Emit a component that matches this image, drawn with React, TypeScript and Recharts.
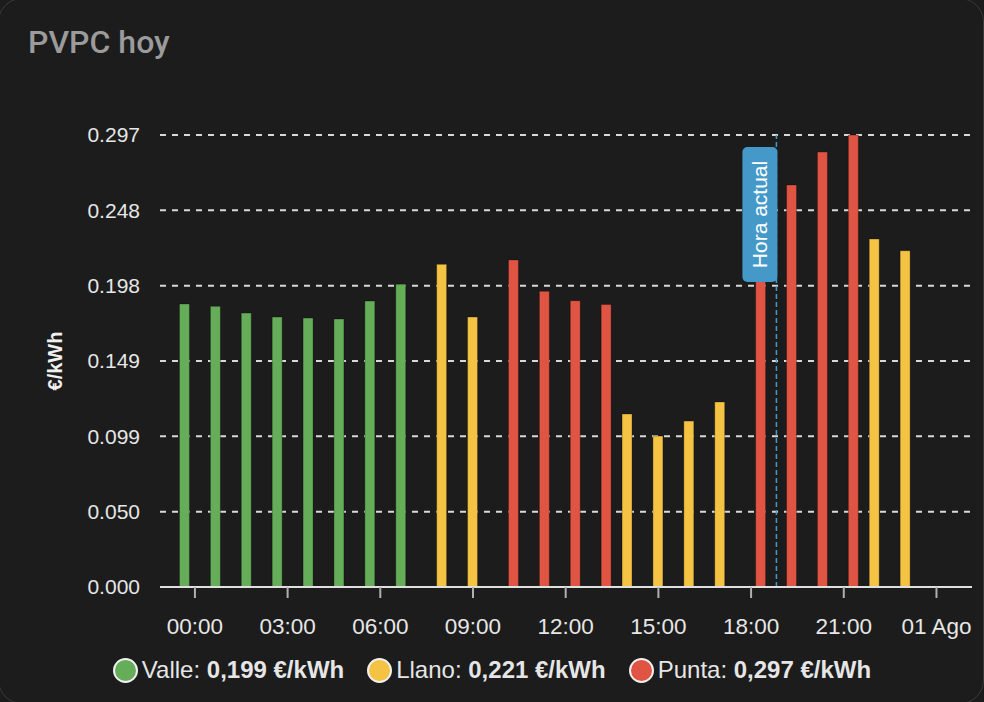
import React from 'react';
import { BarChart, Bar, XAxis, YAxis, CartesianGrid, ReferenceLine } from 'recharts';

// hourly PVPC prices (€/kWh), one series per tariff period
const hours = [0, 1, 2, 3, 4, 5, 6, 7, 8, 9, 10, 11, 12, 13, 14, 15, 16, 17, 18, 19, 20, 21, 22, 23];
const valle = [0.186, 0.1844, 0.18, 0.1774, 0.1767, 0.1761, 0.1879, 0.199, null, null, null, null, null, null, null, null, null, null, null, null, null, null, null, null];
const llano = [null, null, null, null, null, null, null, null, 0.212, 0.1774, null, null, null, null, 0.1137, 0.0992, 0.109, 0.1216, null, null, null, null, 0.2287, 0.221];
const punta = [null, null, null, null, null, null, null, null, null, null, 0.2149, 0.1943, 0.1881, 0.1857, null, null, null, null, 0.209, 0.2642, 0.2858, 0.297, null, null];

const xTicks = [0, 3, 6, 9, 12, 15, 18, 21, 24];
const xTickLabels = ['00:00', '03:00', '06:00', '09:00', '12:00', '15:00', '18:00', '21:00', '01 Ago'];
const yTickLabels = ['0.000', '0.050', '0.099', '0.149', '0.198', '0.248', '0.297'];
const currentHour = 18.82;

// legend: period names and the prices shown next to them
const legendNames = ['Valle', 'Llano', 'Punta'];
const legendValues = ['0,199', '0,221', '0,297'];

const GREEN = '#66ad5a';
const YELLOW = '#f4c343';
const RED = '#e05443';
const BLUE = '#4599c9';
const FONT = '"Liberation Sans", Arial, Helvetica, sans-serif';

const data = hours.map((h, i) => ({ hour: h, valle: valle[i], llano: llano[i], punta: punta[i] }));

const maxOf = (arr: (number | null)[]) => Math.max(...(arr.filter(v => v !== null) as number[]));
const yMax = Math.max(maxOf(valle), maxOf(llano), maxOf(punta));
const yTicks = yTickLabels.map((_, i) => (yMax * i) / 6);

const legendColors = [GREEN, YELLOW, RED];

const HoraActual = (props: any) => {
  const { viewBox } = props;
  if (!viewBox) return null;
  const w = 35;
  const h = 135;
  const x = viewBox.x - w + 1;
  const y = viewBox.y + 12;
  const cx = x + w / 2;
  const cy = y + h / 2;
  return (
    <g>
      <rect x={x} y={y} width={w} height={h} rx={5} ry={5} fill={BLUE} />
      <text
        x={cx}
        y={cy}
        transform={`rotate(-90 ${cx} ${cy})`}
        textAnchor="middle"
        dominantBaseline="central"
        fill="#ffffff"
        fontSize={21}
        fontFamily={FONT}
      >
        Hora actual
      </text>
    </g>
  );
};

const YTitle = (props: any) => {
  const { viewBox } = props;
  if (!viewBox) return null;
  const x = 55;
  const y = viewBox.y + viewBox.height / 2;
  return (
    <text
      x={x}
      y={y}
      transform={`rotate(-90 ${x} ${y})`}
      textAnchor="middle"
      dominantBaseline="central"
      fill="#f0f0f0"
      fontSize={20}
      fontWeight="bold"
      fontFamily={FONT}
    >
      €/kWh
    </text>
  );
};

export default function App() {
  return (
    <div
      style={{
        position: 'absolute',
        left: 0,
        top: 0,
        width: 984,
        height: 702,
        overflow: 'hidden',
        background: '#1c1c1c',
        fontFamily: FONT,
      }}
    >
      <div
        style={{
          position: 'absolute',
          left: -2,
          top: -2,
          width: 986,
          height: 706,
          borderRadius: 24,
          border: '1px solid #3a3a3a',
          boxSizing: 'border-box',
        }}
      />
      <div
        style={{
          position: 'absolute',
          left: 28,
          top: 21,
          fontFamily: 'Roboto, sans-serif',
          fontWeight: 500,
          fontSize: 32,
          color: '#9b9b9b',
          lineHeight: '42px',
        }}
      >
        PVPC hoy
      </div>

      <BarChart
        width={984}
        height={702}
        data={data}
        margin={{ top: 135, right: 12, bottom: 55, left: 0 }}
        barGap={0}
        style={{ position: 'absolute', left: 0, top: 0 }}
      >
        <XAxis
          dataKey="hour"
          type="number"
          domain={[-1.13, 25.15]}
          allowDataOverflow
          ticks={xTicks}
          interval={0}
          height={60}
          tickFormatter={(v: number, i: number) => xTickLabels[i]}
          axisLine={{ stroke: '#e0e0e0', strokeWidth: 2 }}
          tickLine={{ stroke: '#b0b0b0', strokeWidth: 2 }}
          tickSize={11}
          tickMargin={20}
          tick={{ fill: '#e6e6e6', fontSize: 22.5, fontFamily: FONT }}
        />
        <YAxis
          type="number"
          domain={[0, yMax]}
          ticks={yTicks}
          interval={0}
          width={160}
          tickFormatter={(v: number, i: number) => yTickLabels[i]}
          axisLine={false}
          tickLine={false}
          tickSize={0}
          tickMargin={20}
          tick={{ fill: '#e6e6e6', fontSize: 21, fontFamily: FONT }}
          label={<YTitle />}
        />
        <Bar dataKey="valle" fill={GREEN} stroke="rgba(0,0,0,0.3)" strokeWidth={1} barSize={10} isAnimationActive={false} />
        <Bar dataKey="llano" fill={YELLOW} stroke="rgba(0,0,0,0.3)" strokeWidth={1} barSize={10} isAnimationActive={false} />
        <Bar dataKey="punta" fill={RED} stroke="rgba(0,0,0,0.3)" strokeWidth={1} barSize={10} isAnimationActive={false} />
        <CartesianGrid vertical={false} stroke="#d8d8d8" strokeWidth={2} strokeDasharray="6 6" />
        <ReferenceLine
          x={currentHour}
          stroke={BLUE}
          strokeWidth={1.5}
          strokeDasharray="5 3"
          label={<HoraActual />}
        />
      </BarChart>

      <div
        style={{
          position: 'absolute',
          left: 0,
          top: 655,
          width: 984,
          display: 'flex',
          justifyContent: 'center',
          alignItems: 'center',
          gap: 23,
          fontSize: 24,
          color: '#e6e6e6',
          lineHeight: '30px',
        }}
      >
        {legendNames.map((name, i) => (
          <div key={name} style={{ display: 'flex', alignItems: 'center' }}>
            <span
              style={{
                display: 'inline-block',
                width: 21,
                height: 21,
                borderRadius: '50%',
                background: legendColors[i],
                border: '2px solid #f0f0f0',
                marginRight: 4,
              }}
            />
            <span>
              {name}: <b>{legendValues[i]} €/kWh</b>
            </span>
          </div>
        ))}
      </div>
    </div>
  );
}
